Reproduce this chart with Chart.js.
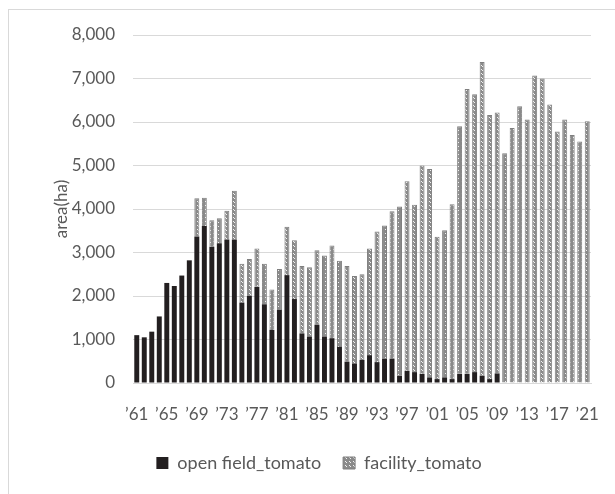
<!DOCTYPE html>
<html>
<head>
<meta charset="utf-8">
<script src="https://cdn.jsdelivr.net/npm/chart.js@4"></script>
<style>
  html, body { margin: 0; padding: 0; background: #fff; }
  #frame { position: absolute; left: 8px; top: 9px; width: 700px; height: 600px;
           border-left: 1px solid #d9d9d9; border-top: 1px solid #d9d9d9; }
  #wrap { position: absolute; left: 0; top: 0; width: 615px; height: 494px; }
</style>
</head>
<body>
<div id="frame"></div>
<div id="wrap"><canvas id="mychart"></canvas></div>
<script>
var ctx = document.getElementById("mychart");

/* data */
var years = [
  '’61', '’62', '’63', '’64', '’65', '’66', '’67', '’68', '’69', '’70',
  '’71', '’72', '’73', '’74', '’75', '’76', '’77', '’78', '’79', '’80',
  '’81', '’82', '’83', '’84', '’85', '’86', '’87', '’88', '’89', '’90',
  '’91', '’92', '’93', '’94', '’95', '’96', '’97', '’98', '’99', '’00',
  '’01', '’02', '’03', '’04', '’05', '’06', '’07', '’08', '’09', '’10',
  '’11', '’12', '’13', '’14', '’15', '’16', '’17', '’18', '’19', '’20',
  '’21'
];
var openField = [
  1100, 1050, 1180, 1530, 2300, 2230, 2470, 2820, 3370, 3610,
  3130, 3210, 3300, 3300, 1850, 2000, 2210, 1810, 1220, 1680,
  2480, 1930, 1140, 1070, 1340, 1070, 1030, 830, 490, 450,
  530, 640, 480, 560, 560, 170, 280, 250, 210, 130,
  90, 130, 90, 210, 210, 250, 170, 90, 220, 0,
  0, 0, 0, 0, 0, 0, 0, 0, 0, 0,
  0
];
var facility = [
  0, 0, 0, 0, 0, 0, 0, 0, 880, 650,
  610, 580, 660, 1120, 890, 850, 880, 930, 930, 940,
  1110, 1350, 1550, 1590, 1710, 1860, 2130, 1980, 2200, 2010,
  1970, 2450, 3000, 3060, 3390, 3890, 4360, 3850, 4790, 4790,
  3270, 3380, 4020, 5690, 6550, 6390, 7210, 6070, 6000, 5280,
  5860, 6360, 6060, 7070, 7000, 6400, 5780, 6060, 5700, 5550,
  6020
];

// hatch fill for facility bars
function makeHatch() {
  var c = document.createElement('canvas');
  c.width = 4; c.height = 4;
  var g = c.getContext('2d');
  g.fillStyle = '#8a8a8a';
  g.fillRect(0, 0, 4, 4);
  g.fillStyle = '#f2f2f2';
  g.fillRect(1, 1, 1, 1);
  g.fillRect(2, 2, 1, 1);
  return g.createPattern(c, 'repeat');
}
var hatch = makeHatch();

var txt = '#595959';
var fnt = { family: 'Lato, "Open Sans", sans-serif', size: 17 };

var mychart = new Chart(ctx, {
  type: 'bar',
  data: {
    labels: years,
    datasets: [{
      label: 'open field_tomato',
      data: openField,
      backgroundColor: '#231f20',
      borderWidth: 0,
      barPercentage: 0.66,
      categoryPercentage: 1
    }, {
      label: 'facility_tomato',
      data: facility,
      backgroundColor: hatch,
      borderColor: '#7f7f7f',
      borderWidth: 1,
      borderSkipped: 'bottom',
      barPercentage: 0.66,
      categoryPercentage: 1
    }]
  },
  options: {
    responsive: true,
    maintainAspectRatio: false,
    animation: false,
    layout: { padding: { left: 40, top: 35, right: 17, bottom: 12 } },
    plugins: {
      tooltip: { enabled: false },
      legend: {
        position: 'bottom',
        labels: {
          color: txt,
          font: { family: fnt.family, size: 18 },
          boxWidth: 12,
          boxHeight: 12,
          padding: 22,
          useBorderRadius: false
        }
      }
    },
    scales: {
      x: {
        stacked: true,
        grid: { display: false },
        border: { display: true, color: '#d9d9d9' },
        ticks: {
          color: txt,
          font: fnt,
          padding: 13,
          autoSkip: false,
          maxRotation: 0,
          minRotation: 0,
          callback: function (v, i) { return i % 4 === 0 ? years[i] : ''; }
        },
        afterFit: function (s) { s.height = 49; }
      },
      y: {
        stacked: true,
        min: 0,
        max: 8000,
        grid: { color: '#d9d9d9', drawTicks: false },
        border: { display: false },
        ticks: {
          stepSize: 1000,
          color: txt,
          font: fnt,
          padding: 18,
          callback: function (v) { return v.toLocaleString('en-US'); }
        },
        title: {
          display: true,
          text: 'area(ha)',
          color: txt,
          font: fnt,
          padding: { top: 11, bottom: 0 }
        },
        afterFit: function (s) { s.width = 93; }
      },
      y2: {
        position: 'right',
        display: true,
        grid: { display: false },
        border: { display: false },
        ticks: { display: false },
        afterFit: function (s) { s.width = 7; }
      }
    }
  }
});
</script>
</body>
</html>
